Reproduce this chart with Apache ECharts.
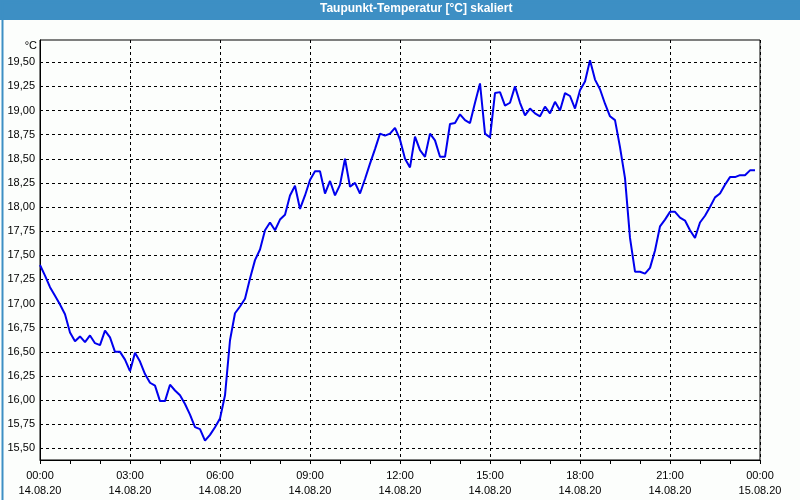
<!DOCTYPE html>
<html>
<head>
<meta charset="utf-8">
<script src="https://cdn.jsdelivr.net/npm/echarts@6/dist/echarts.min.js"></script>
<style>
html,body{margin:0;padding:0;background:#fcfefc;}
#c{width:800px;height:500px;}
</style>
</head>
<body>
<div id="c"></div>
<script>
// time of each sample in minutes after 14.08.20 00:00 (10-minute steps)
const sampleMinutes = Array.from({length: 144}, (_, i) => i * 10);
// dew point values [°C]
const dewPoint = [
  17.40, 17.29, 17.17, 17.08, 16.99, 16.89, 16.70, 16.61, 16.66, 16.60,
  16.67, 16.59, 16.57, 16.72, 16.65, 16.50, 16.50, 16.42, 16.30, 16.49,
  16.40, 16.27, 16.18, 16.15, 15.99, 15.99, 16.16, 16.10, 16.05, 15.96,
  15.85, 15.72, 15.70, 15.58, 15.64, 15.72, 15.81, 16.05, 16.62, 16.90,
  16.97, 17.05, 17.26, 17.45, 17.56, 17.76, 17.84, 17.76, 17.87, 17.92,
  18.12, 18.22, 17.98, 18.12, 18.28, 18.37, 18.37, 18.14, 18.27, 18.12,
  18.23, 18.50, 18.21, 18.25, 18.14, 18.29, 18.45, 18.60, 18.76, 18.74,
  18.76, 18.82, 18.70, 18.50, 18.41, 18.73, 18.59, 18.52, 18.76, 18.69,
  18.52, 18.52, 18.86, 18.87, 18.96, 18.90, 18.87, 19.08, 19.28, 18.76,
  18.72, 19.18, 19.19, 19.05, 19.08, 19.25, 19.08, 18.95, 19.02, 18.97,
  18.94, 19.04, 18.97, 19.09, 19.00, 19.18, 19.15, 19.02, 19.21, 19.30,
  19.52, 19.32, 19.22, 19.07, 18.94, 18.90, 18.62, 18.30, 17.68, 17.33,
  17.33, 17.31, 17.37, 17.55, 17.80, 17.87, 17.95, 17.95, 17.89, 17.86,
  17.76, 17.68, 17.84, 17.91, 18.00, 18.10, 18.14, 18.23, 18.31, 18.31,
  18.33, 18.33, 18.38, 18.38
];
// axis tick labels
const yTickValues = [15.50, 15.75, 16.00, 16.25, 16.50, 16.75, 17.00, 17.25, 17.50, 17.75, 18.00, 18.25, 18.50, 18.75, 19.00, 19.25, 19.50];
const xTickTimes = ['00:00', '03:00', '06:00', '09:00', '12:00', '15:00', '18:00', '21:00', '00:00'];
const xTickDates = ['14.08.20', '14.08.20', '14.08.20', '14.08.20', '14.08.20', '14.08.20', '14.08.20', '14.08.20', '15.08.20'];
const titleText = 'Taupunkt-Temperatur [°C] skaliert';
const unitText = '°C';

const seriesData = sampleMinutes.map((m, i) => [m, dewPoint[i]]);
const FONT = '"Liberation Sans", Arial, sans-serif';

const chart = echarts.init(document.getElementById('c'), null, {renderer: 'canvas'});
chart.setOption({
  animation: false,
  backgroundColor: '#fcfefc',
  graphic: [
    {type: 'rect', left: 0, top: 0, shape: {width: 800, height: 20}, style: {fill: '#3d8fc4'}, z: 0},
    {type: 'rect', left: 0, top: 0, shape: {width: 799, height: 499}, style: {fill: 'none', stroke: '#3d8fc4', lineWidth: 2}, z: 0},
    {type: 'text', left: 320, top: 3, style: {text: titleText, fill: '#ffffff', font: 'bold 12px ' + FONT}, z: 10}
  ],
  grid: {left: 40, right: 40, top: 40, bottom: 40, show: true, borderColor: '#000', borderWidth: 1, backgroundColor: 'transparent'},
  xAxis: {
    type: 'value', min: 0, max: 1440, interval: 180,
    axisLine: {show: true, onZero: false, lineStyle: {color: '#000', width: 1}},
    axisTick: {show: true, length: 4, lineStyle: {color: '#000'}},
    minorTick: {show: true, splitNumber: 3, length: 4, lineStyle: {color: '#000'}},
    splitLine: {show: true, lineStyle: {color: '#000', type: [3, 3], width: 1}},
    axisLabel: {
      color: '#000', fontSize: 11, fontFamily: FONT, lineHeight: 15, margin: 8,
      formatter: v => { const k = Math.round(v / 180); return xTickTimes[k] + '\n' + xTickDates[k]; }
    }
  },
  yAxis: {
    type: 'value', min: 15.38, max: 19.73,
    name: unitText, nameLocation: 'end', nameGap: -6,
    nameTextStyle: {color: '#000', fontSize: 11, fontFamily: FONT, align: 'right', verticalAlign: 'middle', padding: [0, 3, 0, 0]},
    axisLine: {show: true, lineStyle: {color: '#000', width: 1}},
    axisTick: {show: false, customValues: yTickValues},
    splitLine: {show: true, lineStyle: {color: '#000', type: [3, 3], width: 1}},
    axisLabel: {
      color: '#000', fontSize: 11, fontFamily: FONT, margin: 5,
      customValues: yTickValues,
      formatter: v => v.toFixed(2).replace('.', ',')
    }
  },
  series: [{
    type: 'line', data: seriesData, showSymbol: false, symbol: 'none',
    lineStyle: {color: '#0000ee', width: 2}, z: 5
  }]
});
</script>
</body>
</html>
